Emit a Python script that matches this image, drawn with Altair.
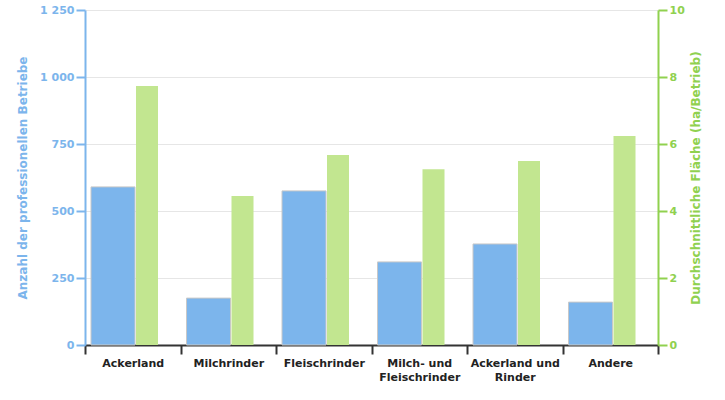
import altair as alt
import pandas as pd

categories = ["Ackerland", "Milchrinder", "Fleischrinder", "Milch- und|Fleischrinder", "Ackerland und|Rinder", "Andere"]
betriebe = [590, 175, 575, 310, 377, 160]
flaeche = [7.73, 4.45, 5.67, 5.25, 5.49, 6.24]

df = pd.DataFrame({"kat": categories, "betriebe": betriebe, "flaeche": flaeche})

BLUE = "#7cb5ec"
GREEN_BAR = "#c2e690"
GREEN_AX = "#90d14f"
FONT = "DejaVu Sans"

x = alt.X("kat:N", sort=categories, title=None,
          scale=alt.Scale(paddingInner=0, paddingOuter=0),
          axis=alt.Axis(labelAngle=0, labelExpr="split(datum.label, '|')",
                        labelFont=FONT, labelFontWeight="bold", labelFontSize=11,
                        labelColor="#222222", labelPadding=3, labelLineHeight=14,
                        domainColor="#333333", domainWidth=2,
                        tickColor="#333333", tickWidth=2, tickSize=9, tickBand="extent",
                        grid=False))

left = alt.Chart(df).mark_bar(width=44, xOffset=-19.75, color=BLUE,
                              stroke="#c8c8c8", strokeWidth=1).encode(
    x=x,
    y=alt.Y("betriebe:Q", title="Anzahl der professionellen Betriebe",
            scale=alt.Scale(domain=[0, 1250], nice=False),
            axis=alt.Axis(values=[0, 250, 500, 750, 1000, 1250],
                          labelExpr="replace(format(datum.value, ','), ',', ' ')",
                          labelFont=FONT, labelFontWeight="bold", labelFontSize=11,
                          labelColor=BLUE, titleColor=BLUE, titleFont=FONT,
                          titleFontSize=12, titleFontWeight="bold",
                          domainColor=BLUE, domainWidth=2, tickColor=BLUE, tickWidth=2,
                          tickSize=9, gridColor="#e6e6e6", titlePadding=10)),
)

right = alt.Chart(df).mark_bar(width=22, xOffset=14.25, color=GREEN_BAR).encode(
    x=x,
    y=alt.Y("flaeche:Q", title="Durchschnittliche Fläche (ha/Betrieb)",
            scale=alt.Scale(domain=[0, 10], nice=False),
            axis=alt.Axis(orient="right", values=[0, 2, 4, 6, 8, 10],
                          labelFont=FONT, labelFontWeight="bold", labelFontSize=11,
                          labelColor=GREEN_AX, titleColor=GREEN_AX, titleFont=FONT,
                          titleFontSize=12, titleFontWeight="bold", titleAngle=270,
                          domainColor=GREEN_AX, domainWidth=2, tickColor=GREEN_AX, tickWidth=2,
                          tickSize=9, grid=False, titlePadding=18)),
)

chart = alt.layer(left, right).resolve_scale(y="independent").properties(
    width=573, height=335, padding={"left": 16, "top": 4, "right": 5, "bottom": 5}
).configure_view(stroke=None)

chart.save("out.html", embed_options={"renderer": "svg", "actions": False})
